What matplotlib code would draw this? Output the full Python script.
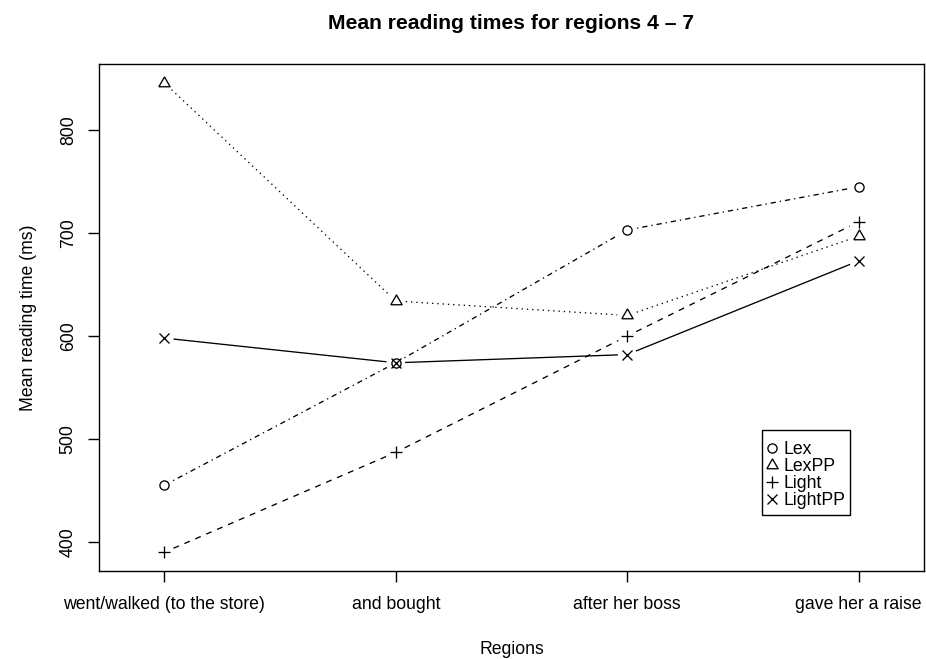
import numpy as np
import matplotlib
matplotlib.use("Agg")
import matplotlib.pyplot as plt
from matplotlib.lines import Line2D
from matplotlib.patches import Rectangle

plt.rcParams['font.family'] = ['Liberation Sans', 'DejaVu Sans']

# Data
regions = ["went/walked (to the store)", "and bought", "after her boss", "gave her a raise"]
conditions = ["Lex", "LexPP", "Light", "LightPP"]
lex = [455, 574, 703, 745]
lexpp = [846, 634, 620, 697]
light = [390, 487, 600, 711]
lightpp = [598, 574, 582, 673]
yticks = [400, 500, 600, 700, 800]

series = [lex, lexpp, light, lightpp]

# Equilateral triangle (centroid-centred) like R's pch 2
tri = [(-1.0, -0.577), (1.0, -0.577), (0.0, 1.155), (-1.0, -0.577)]
styles = [
    dict(marker='o', ms=6.6, dash=(0, (1, 3, 4, 3))),
    dict(marker=tri, ms=9.4, dash=(0, (1, 3))),
    dict(marker='+', ms=8.8, dash=(0, (4.5, 4.5))),
    dict(marker='x', ms=6.6, dash='solid'),
]

W, H = 926, 659
fig = plt.figure(figsize=(W / 100, H / 100), dpi=100)
L, R, T, B = 99, 924, 64, 571
ax = fig.add_axes([L / W, 1 - B / H, (R - L) / W, (B - T) / H])

x = np.arange(1, len(regions) + 1)
all_vals = np.concatenate([np.asarray(s, float) for s in series])
ymin, ymax = all_vals.min(), all_vals.max()
ext = 0.04 * (ymax - ymin)
ax.set_ylim(ymin - ext, ymax + ext)
ax.set_xlim(0.85 - 0.04 * 3.3, 4.15 + 0.04 * 3.3)

# type="b" style: points joined by segments that stop short of each point
gap = 10.0  # pixels
inv = ax.transData.inverted()
for vals, st in zip(series, styles):
    pts = ax.transData.transform(np.column_stack([x, vals]))
    for p0, p1 in zip(pts[:-1], pts[1:]):
        d = p1 - p0
        n = np.hypot(*d)
        if n <= 2 * gap:
            continue
        u = d / n
        a = inv.transform(p0 + u * gap)
        b = inv.transform(p1 - u * gap)
        ax.plot([a[0], b[0]], [a[1], b[1]], color='black', lw=0.95,
                linestyle=st['dash'])
    ax.plot(x, vals, linestyle='none', marker=st['marker'], ms=st['ms'],
            mfc='none', mec='black', mew=0.95)

for sp in ax.spines.values():
    sp.set_linewidth(1.0)
    sp.set_color('black')

ax.set_xticks(x)
ax.set_xticklabels(regions)
ax.set_yticks(yticks)
ax.set_yticklabels([str(v) for v in yticks], rotation=90, va='center')
ax.tick_params(axis='both', length=8, width=1.0, labelsize=12.7, color='black')
ax.tick_params(axis='x', pad=10)
ax.tick_params(axis='y', pad=8)

ax.set_title("Mean reading times for regions 4 \u2013 7", fontsize=15.2,
             fontweight='bold', pad=25)
ax.set_xlabel("Regions", fontsize=12.7)
ax.xaxis.set_label_coords(0.5, (B - 641) / (B - T))
ax.set_ylabel("Mean reading time (ms)", fontsize=12.7)
ax.yaxis.set_label_coords((37 - L) / (R - L), 0.5)

# Legend: entries without their own frame, boxed separately
handles = [Line2D([], [], linestyle='none', marker=st['marker'], ms=st['ms'],
                  mfc='none', mec='black', mew=0.95) for st in styles]
leg = ax.legend(handles, conditions, loc='upper left',
                bbox_to_anchor=(767 / W, 1 - 441 / H),
                bbox_transform=fig.transFigure, fontsize=12.7,
                frameon=False, handlelength=0.6, handletextpad=0.35,
                borderpad=0, labelspacing=0.0, borderaxespad=0)
fig.patches.append(Rectangle((762 / W, 1 - 515 / H), 88 / W, 85 / H,
                             transform=fig.transFigure, fill=False,
                             edgecolor='black', linewidth=1.0))

fig.savefig("out.png", dpi=100)
